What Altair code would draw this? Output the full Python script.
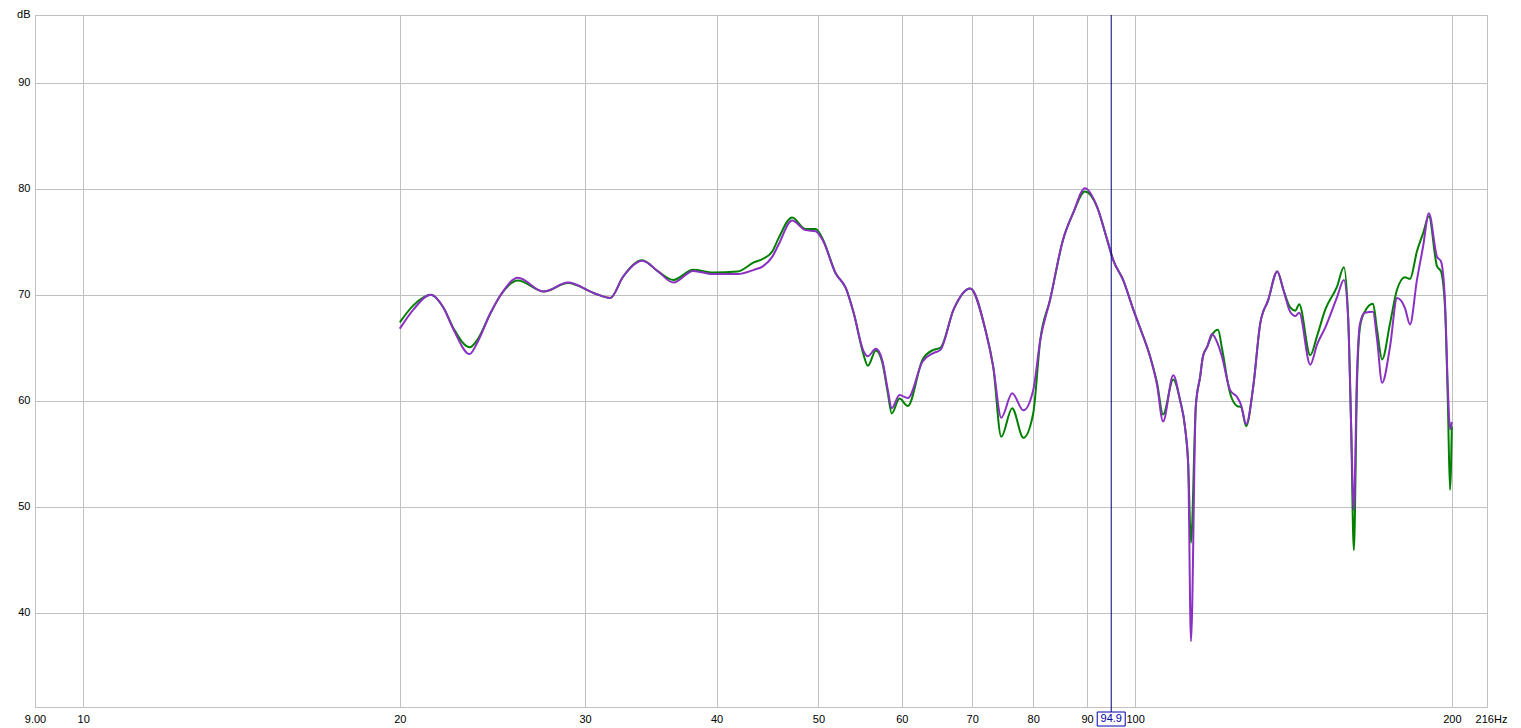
import altair as alt
import pandas as pd

# Frequency (Hz) sample points
freq = [20.0, 20.6, 21.4, 22.0, 22.5, 23.3, 23.7, 24.4, 24.95, 25.9, 27.4, 28.9,
        30.6, 31.7, 32.6, 34.0, 35.2, 36.4, 38.0, 39.7, 41.9, 43.4, 44.3, 45.2,
        45.8, 47.2, 48.6, 49.7, 50.5, 51.9, 53.1, 54.0, 55.2, 55.7, 56.7, 57.5,
        58.2, 58.7, 59.7, 60.8, 62.8, 64.3, 65.3, 67.2, 69.7, 72.05, 73.3, 74.6,
        76.4, 78.3, 80.0, 81.25, 83.0, 85.4, 87.3, 89.6, 92.0, 94.05, 95.3, 97.4,
        99.6, 101.1, 103.3, 104.9, 106.3, 108.7, 110.3, 111.6, 112.3, 113.0, 114.2,
        115.3, 116.0, 117.1, 118.3, 119.9, 120.9, 123.1, 125.0, 126.1, 127.5, 129.5,
        131.5, 133.8, 136.5, 138.3, 140.4, 142.0, 143.2, 146.7, 148.9, 151.6, 155.6,
        157.9, 159.4, 160.4, 161.4, 162.5, 163.6, 165.3, 168.3, 169.8, 171.7, 174.7,
        177.4, 180.5, 182.5, 185.3, 187.8, 190.2, 193.6, 195.3, 197.0, 198.3, 199.2,
        200.0]

green_db = [67.4, 69.0, 70.0, 68.8, 66.8, 65.05, 65.75, 68.3, 70.0, 71.35, 70.3, 71.1,
            70.15, 69.7, 71.7, 73.25, 72.2, 71.4, 72.35, 72.1, 72.2, 73.05, 73.4, 74.1,
            75.3, 77.3, 76.2, 76.2, 75.2, 72.05, 70.6, 68.3, 64.3, 63.3, 64.75, 63.6,
            60.7, 58.8, 60.2, 59.5, 63.9, 64.8, 65.0, 68.6, 70.6, 66.7, 63.2, 56.6,
            59.3, 56.5, 58.8, 65.75, 69.5, 75.2, 77.7, 79.75, 78.3, 75.2, 73.3, 71.4,
            68.6, 66.85, 64.2, 61.7, 58.7, 62.0, 60.1, 57.3, 54.1, 46.6, 59.5,
            62.3, 64.2, 65.1, 66.2, 66.7, 65.0, 60.7, 59.5, 59.4, 57.6, 61.35,
            67.3, 69.5, 72.2, 70.5, 68.8, 68.5, 69.1, 64.3, 66.1, 68.6, 70.8,
            72.6, 67.8, 58.0, 45.9, 61.5, 67.0, 68.4, 69.15, 66.7, 63.9, 67.3,
            70.5, 71.65, 71.5, 74.1, 75.8, 77.4, 72.7, 72.2, 68.9, 59.5, 51.6,
            57.6]

purple_db = [66.8, 68.6, 70.0, 68.8, 66.7, 64.4, 65.5, 68.3, 70.0, 71.6, 70.3, 71.15,
             70.15, 69.7, 71.7, 73.2, 72.2, 71.15, 72.25, 71.95, 71.95, 72.35, 72.7, 73.6,
             74.7, 77.0, 76.1, 76.0, 75.1, 72.05, 70.6, 68.3, 64.65, 64.2, 64.9, 63.8,
             61.0, 59.3, 60.55, 60.25, 63.7, 64.5, 64.8, 68.6, 70.6, 66.7, 63.2, 58.4,
             60.7, 59.1, 61.0, 65.75, 69.5, 75.2, 77.7, 80.05, 78.3, 75.2, 73.3, 71.4,
             68.6, 66.85, 64.2, 61.5, 58.05, 62.4, 60.1, 57.3, 54.1, 37.3, 59.5,
             62.3, 64.2, 65.1, 66.3, 65.3, 64.2, 61.0, 60.35, 59.6, 57.8, 61.35,
             67.3, 69.5, 72.2, 70.5, 68.4, 68.0, 68.3, 63.4, 65.3, 66.9, 69.8,
             71.4, 67.8, 58.0, 49.7, 62.5, 67.3, 68.3, 68.4, 65.8, 61.7, 65.1,
             69.7, 68.75, 67.2, 71.4, 74.55, 77.7, 73.6, 73.15, 69.5, 61.0, 57.3,
             58.0]

cursor_hz = [94.9]
x_ticks = [9, 10, 20, 30, 40, 50, 60, 70, 80, 90, 100, 200, 216]
y_ticks = [40, 50, 60, 70, 80, 90]

FONT = "Liberation Sans"
GRID = "#c0c0c0"

green_df = pd.DataFrame({"freq": freq, "db": green_db})
purple_df = pd.DataFrame({"freq": freq, "db": purple_db})
cursor_df = pd.DataFrame({"freq": cursor_hz, "label": [f"{v:.1f}" for v in cursor_hz]})

xscale = alt.Scale(type="log", domain=[9, 216], nice=False)
yscale = alt.Scale(domain=[31.1, 96.4], nice=False, zero=False)

xaxis = alt.Axis(
    values=x_ticks,
    labelExpr="datum.value == 9 ? '9.00' : (datum.value == 216 ? '216Hz' : datum.label)",
    title=None, grid=True, domain=False, ticks=False,
    labelOverlap=False, labelFlush=False, labelPadding=6,
    labelFont=FONT, labelFontSize=11, labelColor="#000000",
    labelOffset={"condition": {"test": "datum.value >= 216", "value": 4}, "value": 0},
)
yaxis = alt.Axis(
    values=y_ticks, title="dB", titleAngle=0, titleX=-5, titleY=-7,
    titleAlign="right", titleBaseline="top", titleFont=FONT,
    titleFontSize=11, titleFontWeight="normal", titleColor="#000000",
    grid=True, domain=False, ticks=False, labelPadding=5,
    labelFont=FONT, labelFontSize=11, labelColor="#000000",
)

base_x = alt.X("freq:Q", scale=xscale, axis=xaxis)
base_y = alt.Y("db:Q", scale=yscale, axis=yaxis)

green_line = alt.Chart(green_df).mark_line(
    color="#008000", strokeWidth=2, interpolate="monotone"
).encode(x=base_x, y=base_y)

purple_line = alt.Chart(purple_df).mark_line(
    color="#8a30c2", strokeWidth=2, interpolate="monotone"
).encode(x=alt.X("freq:Q"), y=alt.Y("db:Q"))

cursor_rule = alt.Chart(cursor_df).mark_rule(color="#000080", strokeWidth=1).encode(
    x=alt.X("freq:Q"), y=alt.value(0), y2=alt.value(697)
)

cursor_box = alt.Chart(cursor_df).mark_point(
    shape="M-1,-0.5L1,-0.5L1,0.5L-1,0.5Z", size=784, filled=False,
    color="#0000aa", strokeWidth=1, opacity=1, fill="white", fillOpacity=1,
).encode(x=alt.X("freq:Q"), y=alt.value(704))

cursor_text = alt.Chart(cursor_df).mark_text(
    color="#0000aa", font=FONT, fontSize=11, baseline="middle", align="center", dy=0
).encode(x=alt.X("freq:Q"), y=alt.value(704), text="label:N")

chart = alt.layer(green_line, purple_line, cursor_rule, cursor_box, cursor_text).properties(
    width=1452, height=692,
    autosize=alt.AutoSizeParams(type="none"),
    padding={"left": 27, "top": 7, "right": 25, "bottom": 20},
    background="white",
).configure_view(
    stroke=GRID, strokeWidth=1
).configure_axis(
    gridColor=GRID, gridWidth=1, gridOpacity=1
)

chart.save("out.html", embed_options={"renderer": "svg", "actions": False})
